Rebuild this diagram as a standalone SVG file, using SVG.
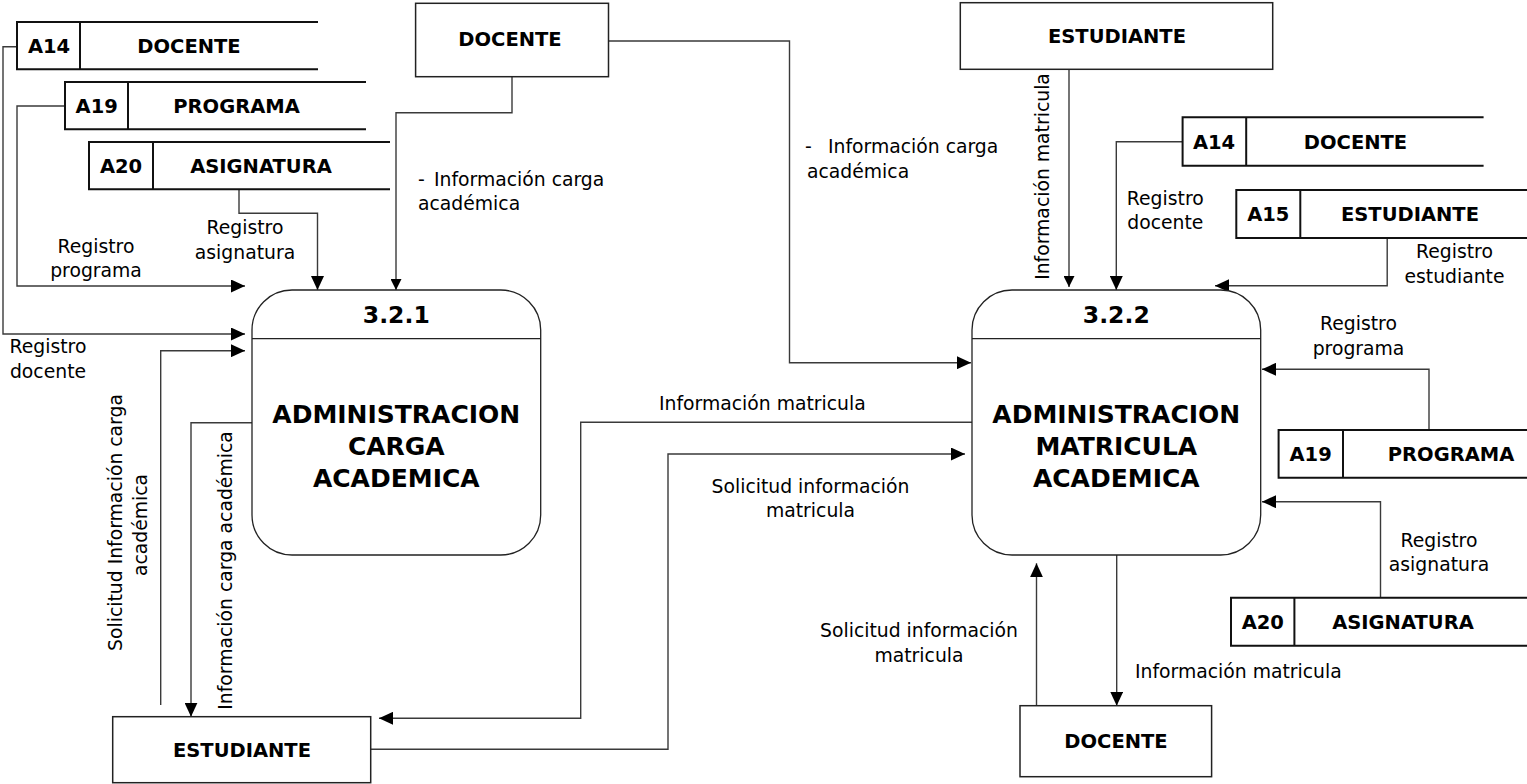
<svg xmlns="http://www.w3.org/2000/svg" width="1527" height="784" viewBox="0 0 1527 784">
<defs>
<style>
.bg{fill:#fff}
.ent{fill:#fff;stroke:#222;stroke-width:1.5}
.proc{fill:#fff;stroke:#222;stroke-width:1.3}
.st{fill:none;stroke:#111;stroke-width:2}
.cn{fill:none;stroke:#3a3a3a;stroke-width:1.4}
.cna{fill:none;stroke:#3a3a3a;stroke-width:1.4;marker-end:url(#ah)}
.cns{fill:none;stroke:#3a3a3a;stroke-width:1.4;marker-end:url(#ahs)}
.b{font-family:"DejaVu Sans","Liberation Sans",sans-serif;font-weight:bold;font-size:19.5px;fill:#000;text-anchor:middle}
.pt{font-family:"DejaVu Sans","Liberation Sans",sans-serif;font-weight:bold;font-size:25px;fill:#000;text-anchor:middle}
.pn{font-family:"DejaVu Sans","Liberation Sans",sans-serif;font-weight:bold;font-size:23.5px;fill:#000;text-anchor:middle}
.l{font-family:"DejaVu Sans","Liberation Sans",sans-serif;font-size:18.8px;fill:#000}
.c{text-anchor:middle}
</style>
<marker id="ah" markerUnits="userSpaceOnUse" markerWidth="14" markerHeight="13" refX="14" refY="6.5" orient="auto">
<path d="M0,0 L14,6.5 L0,13 z" fill="#000"/>
</marker>
<marker id="ahs" markerUnits="userSpaceOnUse" markerWidth="11" markerHeight="11" refX="11" refY="5.5" orient="auto">
<path d="M0,0 L11,5.5 L0,11 z" fill="#000"/>
</marker>
</defs>
<rect class="bg" x="0" y="0" width="1527" height="784"/>

<g id="connectors">
<polyline class="cna" points="17,46.7 3,46.7 3,334 245,334"/>
<polyline class="cna" points="65,106 17,106 17,286 245,286"/>
<polyline class="cna" points="239,189 239,213.3 317.5,213.3 317.5,290"/>
<polyline class="cns" points="512,76.7 512,112.7 396,112.7 396,290"/>
<polyline class="cna" points="608.5,41 789.5,41 789.5,362.7 971,362.7"/>
<polyline class="cna" points="252,422.7 191,422.7 191,716.7"/>
<polyline class="cna" points="160.7,705 160.7,350.7 245,350.7"/>
<polyline class="cna" points="972,422.3 580.7,422.3 580.7,718.3 379,718.3"/>
<polyline class="cna" points="370.7,749.3 668,749.3 668,454 965,454"/>
<polyline class="cns" points="1069,69.3 1069,287"/>
<polyline class="cna" points="1182.6,141.7 1116.3,141.7 1116.3,290"/>
<polyline class="cna" points="1387.2,238 1387.2,285.7 1215,285.7"/>
<polyline class="cna" points="1429,430 1429,369.3 1262,369.3"/>
<polyline class="cna" points="1380.5,597.7 1380.5,501.7 1262,501.7"/>
<polyline class="cna" points="1116.7,555 1116.7,705.7"/>
<polyline class="cna" points="1036.5,705.7 1036.5,563.3"/>
</g>

<g id="labels">
<text class="l c" x="245" y="234">Registro</text>
<text class="l c" x="245" y="259">asignatura</text>
<text class="l c" x="96" y="252.7">Registro</text>
<text class="l c" x="96" y="276.7">programa</text>
<text class="l c" x="48" y="353">Registro</text>
<text class="l c" x="48" y="378">docente</text>
<text class="l" x="418" y="186">-</text>
<text class="l" x="434" y="186">Información carga</text>
<text class="l" x="418" y="210">académica</text>
<text class="l" x="805" y="153">-</text>
<text class="l" x="828" y="153">Información carga</text>
<text class="l" x="807" y="178">académica</text>
<text class="l" x="659" y="410">Información matricula</text>
<text class="l c" x="810.5" y="492.7">Solicitud información</text>
<text class="l c" x="810.5" y="517.3">matricula</text>
<text class="l c" x="919" y="636.7">Solicitud información</text>
<text class="l c" x="919" y="661.7">matricula</text>
<text class="l" x="1135" y="678.3">Información matricula</text>
<text class="l c" x="1439" y="547">Registro</text>
<text class="l c" x="1439" y="571">asignatura</text>
<text class="l c" x="1358.5" y="330">Registro</text>
<text class="l c" x="1358.5" y="355">programa</text>
<text class="l c" x="1454.5" y="258">Registro</text>
<text class="l c" x="1454.5" y="283">estudiante</text>
<text class="l c" x="1165.3" y="205">Registro</text>
<text class="l c" x="1165.3" y="229.3">docente</text>
<text class="l c" transform="translate(1048.6,176.5) rotate(-90)">Información matricula</text>
<text class="l c" transform="translate(122.3,522.5) rotate(-90)">Solicitud Información carga</text>
<text class="l c" transform="translate(147.3,525) rotate(-90)">académica</text>
<text class="l c" transform="translate(231.7,570.5) rotate(-90)">Información carga académica</text>
</g>

<g id="store-A14-left">
<path class="st" d="M318,22 H17 V69.3 H318 M80,22 V69.3"/>
<text class="b" x="49" y="53.3">A14</text>
<text class="b" x="189" y="53.3">DOCENTE</text>
</g>
<g id="store-A19-left">
<path class="st" d="M366,82 H65 V129.3 H366 M128,82 V129.3"/>
<text class="b" x="96.7" y="112.7">A19</text>
<text class="b" x="236.5" y="112.7">PROGRAMA</text>
</g>
<g id="store-A20-left">
<path class="st" d="M390,142 H89 V189.3 H390 M153,142 V189.3"/>
<text class="b" x="121" y="172.7">A20</text>
<text class="b" x="261" y="172.7">ASIGNATURA</text>
</g>

<g id="ext-docente-top">
<rect class="ent" x="415.6" y="3.3" width="192.9" height="73.4"/>
<text class="b" x="510" y="46">DOCENTE</text>
</g>
<g id="ext-estudiante-top">
<rect class="ent" x="960.3" y="2.7" width="312.4" height="66.6"/>
<text class="b" x="1117" y="43">ESTUDIANTE</text>
</g>
<g id="ext-estudiante-bottom">
<rect class="ent" x="112.7" y="716.7" width="258" height="66"/>
<text class="b" x="242" y="756.5">ESTUDIANTE</text>
</g>
<g id="ext-docente-bottom">
<rect class="ent" x="1020" y="705.7" width="191.6" height="71"/>
<text class="b" x="1116" y="748.3">DOCENTE</text>
</g>

<g id="proc-321">
<rect class="proc" x="252" y="290" width="288.7" height="265" rx="40" ry="40"/>
<line class="proc" x1="252" y1="338.7" x2="540.7" y2="338.7"/>
<text class="pn" x="396.3" y="322.7">3.2.1</text>
<text class="pt" x="396.3" y="422.7">ADMINISTRACION</text>
<text class="pt" x="396.3" y="455">CARGA</text>
<text class="pt" x="396.3" y="486.5">ACADEMICA</text>
</g>
<g id="proc-322">
<rect class="proc" x="972" y="290" width="288.7" height="265" rx="40" ry="40"/>
<line class="proc" x1="972" y1="338.7" x2="1260.7" y2="338.7"/>
<text class="pn" x="1116.3" y="322.7">3.2.2</text>
<text class="pt" x="1116.3" y="422.7">ADMINISTRACION</text>
<text class="pt" x="1116.3" y="455">MATRICULA</text>
<text class="pt" x="1116.3" y="486.5">ACADEMICA</text>
</g>

<g id="store-A14-right">
<path class="st" d="M1483.6,117.3 H1182.6 V165.7 H1483.6 M1246.2,117.3 V165.7"/>
<text class="b" x="1214" y="148.5">A14</text>
<text class="b" x="1355.5" y="148.5">DOCENTE</text>
</g>
<g id="store-A15-right">
<path class="st" d="M1527,190 H1236.3 V238 H1527 M1300.3,190 V238"/>
<text class="b" x="1268.3" y="221">A15</text>
<text class="b" x="1410" y="221">ESTUDIANTE</text>
</g>
<g id="store-A19-right">
<path class="st" d="M1527,430 H1278.6 V477.7 H1527 M1343,430 V477.7"/>
<text class="b" x="1310.6" y="461">A19</text>
<text class="b" x="1451" y="461">PROGRAMA</text>
</g>
<g id="store-A20-right">
<path class="st" d="M1527,597.7 H1231 V645.7 H1527 M1294.4,597.7 V645.7"/>
<text class="b" x="1262.8" y="629">A20</text>
<text class="b" x="1403" y="629">ASIGNATURA</text>
</g>
</svg>
